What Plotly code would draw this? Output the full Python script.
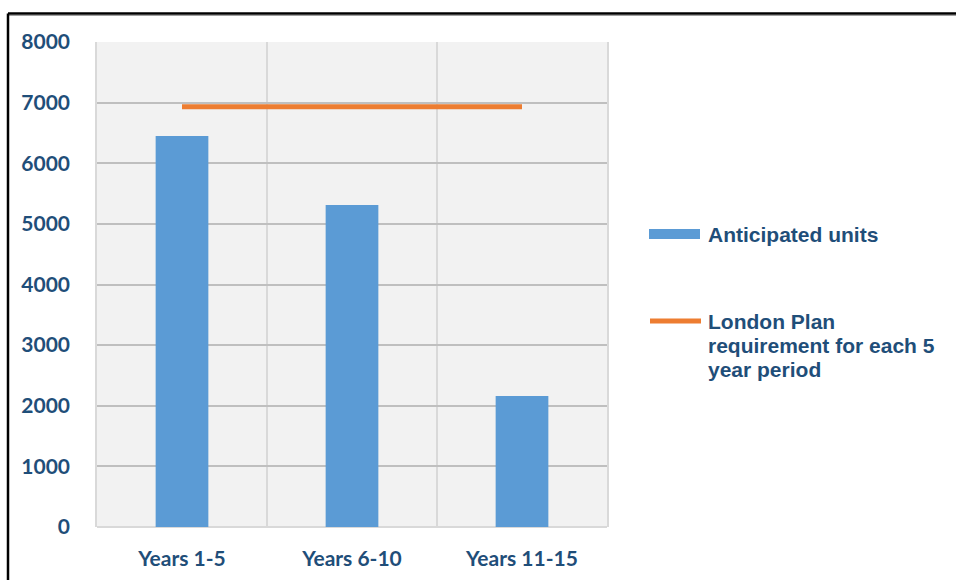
import plotly.graph_objects as go

# ---- data ----
categories = ["Years 1-5", "Years 6-10", "Years 11-15"]
anticipated_units = [6450, 5310, 2160]
london_plan_requirement = [6930, 6930, 6930]
y_ticks = [0, 1000, 2000, 3000, 4000, 5000, 6000, 7000, 8000]
series_names = ["Anticipated units", "London Plan requirement for each 5 year period"]
legend_lines_2 = ["London Plan", "requirement for each 5", "year period"]

# ---- layout helpers (page pixel -> paper) ----
W, H = 956, 580
L, R, T, B = 97, 607, 42, 527


def px(x):
    return (x - L) / (R - L)


def py(y):
    return (B - y) / (B - T)


BLUE = "#5B9BD5"
ORANGE = "#ED7D31"
TEXT = "#1F4E79"

fig = go.Figure()
fig.add_trace(go.Bar(
    x=categories, y=anticipated_units, name=series_names[0],
    marker=dict(color=BLUE, line=dict(width=0)), width=0.31,
))
fig.add_trace(go.Scatter(
    x=categories, y=london_plan_requirement, name=series_names[1],
    mode="lines", line=dict(color=ORANGE, width=5),
))

shapes = [
    # outer frame (top and left visible)
    dict(type="line", xref="paper", yref="paper", x0=px(8), x1=px(970), y0=py(13.5), y1=py(13.5),
         line=dict(color="black", width=2.5)),
    dict(type="line", xref="paper", yref="paper", x0=px(9), x1=px(970), y0=py(15.5), y1=py(15.5),
         line=dict(color="#A0A0A0", width=1)),
    dict(type="line", xref="paper", yref="paper", x0=px(8), x1=px(8), y0=py(13.5), y1=py(600),
         line=dict(color="black", width=2.5)),
    # legend symbols
    dict(type="rect", xref="paper", yref="paper", x0=px(649), x1=px(700), y0=py(239), y1=py(229),
         fillcolor=BLUE, line=dict(width=0)),
    dict(type="line", xref="paper", yref="paper", x0=px(650), x1=px(701), y0=py(321), y1=py(321),
         line=dict(color=ORANGE, width=5)),
]

legend_font = dict(family="Liberation Sans, Arial", size=21, color=TEXT, weight="bold")
annotations = [
    dict(xref="paper", yref="paper", x=px(706), y=py(234), text=series_names[0],
         showarrow=False, xanchor="left", yanchor="middle", font=legend_font),
]
for i, line in enumerate(legend_lines_2):
    annotations.append(dict(xref="paper", yref="paper", x=px(706), y=py(321 + 24 * i), text=line,
                            showarrow=False, xanchor="left", yanchor="middle", font=legend_font))

tick_font = dict(family="Lato", size=21, color=TEXT, weight="bold")

fig.update_layout(
    width=W, height=H,
    margin=dict(l=L, r=W - R, t=T, b=H - B, pad=0, autoexpand=False),
    paper_bgcolor="white",
    plot_bgcolor="#F2F2F2",
    showlegend=False,
    shapes=shapes,
    annotations=annotations,
    xaxis=dict(
        type="category", range=[-0.5, 2.5], tickson="boundaries",
        showgrid=True, gridcolor="#D9D9D9", gridwidth=1.5,
        showline=False, ticks="", tickfont=tick_font, ticklabelstandoff=17,
        automargin=False, fixedrange=True,
    ),
    yaxis=dict(
        range=[0, 8000], tickvals=y_ticks, ticktext=[str(v) for v in y_ticks],
        showgrid=True, gridcolor="#BFBFBF", gridwidth=1.5,
        zeroline=True, zerolinecolor="#D9D9D9", zerolinewidth=1.5,
        showline=True, linecolor="#D9D9D9", linewidth=1.5, mirror=True,
        ticks="", tickfont=tick_font, ticklabelstandoff=21,
        automargin=False, fixedrange=True,
    ),
)

fig.write_html(
    "out.html",
    config={"displayModeBar": False},
    post_script="document.body.style.margin='0';document.body.style.overflow='hidden';",
)
